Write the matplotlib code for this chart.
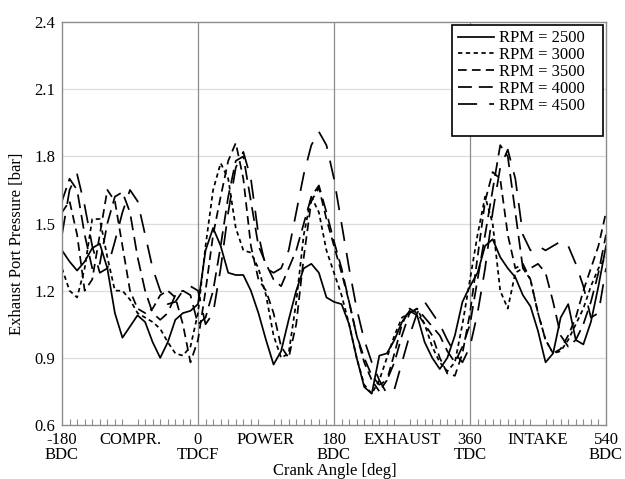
import matplotlib
matplotlib.use("Agg")
import matplotlib.pyplot as plt
import numpy as np

plt.rcParams["font.family"] = ["Liberation Serif", "DejaVu Serif"]
plt.rcParams["font.size"] = 12

# crank angle grid [deg]
ANGLE = list(range(-180, 541, 10))

P_2500 = [1.38, 1.33, 1.29, 1.33, 1.39, 1.41, 1.30, 1.10, 0.99, 1.04,
          1.09, 1.06, 0.97, 0.90, 0.97, 1.07, 1.10, 1.11, 1.14, 1.38,
          1.48, 1.40, 1.28, 1.27, 1.27, 1.20, 1.10, 0.98, 0.87, 0.93,
          1.07, 1.20, 1.30, 1.32, 1.28, 1.17, 1.15, 1.14, 1.05, 0.90,
          0.77, 0.74, 0.91, 0.92, 0.98, 1.06, 1.11, 1.09, 0.97, 0.90,
          0.85, 0.90, 1.00, 1.15, 1.22, 1.28, 1.40, 1.43, 1.35, 1.30,
          1.26, 1.18, 1.13, 1.02, 0.88, 0.92, 1.08, 1.14, 0.98, 0.96,
          1.06, 1.22, 1.40]
P_3000 = [1.30, 1.20, 1.17, 1.30, 1.52, 1.52, 1.35, 1.20, 1.20, 1.16,
          1.10, 1.08, 1.06, 1.03, 0.97, 0.92, 0.91, 0.95, 1.10, 1.40,
          1.65, 1.77, 1.70, 1.48, 1.38, 1.37, 1.30, 1.18, 1.00, 0.90,
          0.92, 1.15, 1.45, 1.62, 1.55, 1.38, 1.28, 1.18, 1.05, 0.90,
          0.78, 0.74, 0.80, 0.90, 1.00, 1.08, 1.10, 1.12, 1.05, 0.95,
          0.88, 0.84, 0.88, 1.05, 1.25, 1.45, 1.62, 1.50, 1.20, 1.12,
          1.28, 1.30, 1.25, 1.10, 0.98, 0.92, 0.93, 0.98, 1.05, 1.12,
          1.22, 1.30, 1.35]
P_3500 = [1.55, 1.60, 1.45, 1.20, 1.25, 1.45, 1.65, 1.60, 1.40, 1.20,
          1.12, 1.10, 1.12, 1.18, 1.20, 1.17, 1.05, 0.88, 0.98, 1.20,
          1.45, 1.62, 1.78, 1.86, 1.70, 1.40, 1.25, 1.20, 1.10, 0.95,
          0.90, 1.05, 1.35, 1.60, 1.66, 1.52, 1.40, 1.28, 1.15, 1.00,
          0.88, 0.80, 0.75, 0.80, 0.92, 1.05, 1.12, 1.10, 1.05, 1.00,
          0.90, 0.83, 0.82, 0.92, 1.10, 1.35, 1.60, 1.73, 1.70, 1.45,
          1.30, 1.32, 1.25, 1.10, 0.98, 0.92, 0.94, 1.00, 1.08, 1.20,
          1.30, 1.40, 1.55]
P_4000 = [1.60, 1.70, 1.65, 1.45, 1.30, 1.32, 1.50, 1.62, 1.64, 1.55,
          1.35, 1.20, 1.10, 1.07, 1.10, 1.18, 1.20, 1.18, 1.05, 1.08,
          1.20, 1.40, 1.62, 1.78, 1.80, 1.60, 1.40, 1.32, 1.25, 1.22,
          1.30, 1.38, 1.50, 1.62, 1.67, 1.55, 1.42, 1.30, 1.15, 1.00,
          0.90, 0.82, 0.78, 0.80, 0.88, 1.00, 1.10, 1.12, 1.08, 1.04,
          1.00, 0.93, 0.88, 0.95, 1.05, 1.25, 1.45, 1.65, 1.85, 1.80,
          1.55, 1.30, 1.30, 1.32, 1.28, 1.15, 1.00, 0.95, 0.98, 1.05,
          1.15, 1.28, 1.45]
P_4500 = [1.45, 1.65, 1.72, 1.58, 1.40, 1.28, 1.30, 1.42, 1.55, 1.65,
          1.60, 1.45, 1.30, 1.20, 1.14, 1.15, 1.20, 1.22, 1.20, 1.05,
          1.10, 1.30, 1.55, 1.75, 1.82, 1.70, 1.45, 1.30, 1.28, 1.30,
          1.38, 1.55, 1.72, 1.85, 1.91, 1.85, 1.70, 1.50, 1.30, 1.12,
          0.98, 0.88, 0.80, 0.74, 0.76, 0.88, 1.00, 1.10, 1.15, 1.10,
          1.05, 0.98, 0.92, 0.88, 0.95, 1.10, 1.30, 1.55, 1.75, 1.83,
          1.70, 1.45, 1.38, 1.40, 1.38, 1.40, 1.42, 1.40, 1.32, 1.22,
          1.08, 1.10, 1.30]

SERIES = [
    ("RPM = 2500", P_2500, "-"),
    ("RPM = 3000", P_3000, (0, (2.5, 2))),
    ("RPM = 3500", P_3500, (0, (5, 3))),
    ("RPM = 4000", P_4000, (0, (8, 4))),
    ("RPM = 4500", P_4500, (0, (11, 7))),
]

TICK_POS = [-180, -90, 0, 90, 180, 270, 360, 450, 540]
TICK_LABELS = ["-180\nBDC", "COMPR.", "0\nTDCF", "POWER", "180\nBDC",
               "EXHAUST", "360\nTDC", "INTAKE", "540\nBDC"]
Y_TICKS = [0.6, 0.9, 1.2, 1.5, 1.8, 2.1, 2.4]

fig = plt.figure(figsize=(6.25, 4.79), dpi=100)
ax = fig.add_axes([0.0992, 0.1127, 0.8704, 0.8413])

for y in Y_TICKS[1:-1]:
    ax.axhline(y, color="#dcdcdc", lw=0.9, zorder=0)
for x in (0, 180, 360):
    ax.axvline(x, color="#8c8c8c", lw=0.9, zorder=0)

handles = []
for label, vals, ls in SERIES:
    h, = ax.plot(ANGLE, vals, color="black", lw=1.25, linestyle=ls, label=label)
    handles.append(h)

ax.set_xlim(-180, 540)
ax.set_ylim(0.6, 2.4)
ax.set_yticks(Y_TICKS)
ax.set_yticklabels([f"{v:.1f}" for v in Y_TICKS])
ax.set_xticks(TICK_POS)
ax.set_xticklabels(TICK_LABELS, linespacing=0.95)
ax.set_xticks(np.arange(-180, 541, 10), minor=True)
ax.tick_params(axis="x", which="major", length=0, pad=5, labelsize=12)
ax.tick_params(axis="x", which="minor", direction="in", length=4, color="#8c8c8c", width=0.8)
ax.tick_params(axis="y", length=0, pad=5, labelsize=12)
for side in ("top", "right", "bottom", "left"):
    ax.spines[side].set_color("#8c8c8c")
    ax.spines[side].set_linewidth(1.0)

blank, = ax.plot([], [], color="none")
leg = ax.legend(handles + [blank], [s[0] + "   " for s in SERIES] + [" "],
                loc="upper right", bbox_to_anchor=(1.0, 1.0), borderaxespad=0.15,
                fontsize=12, handlelength=2.2, handletextpad=0.3,
                labelspacing=0.05, borderpad=0.35, fancybox=False, framealpha=1)
leg.get_frame().set_edgecolor("black")
leg.get_frame().set_linewidth(1.2)

fig.text(0.027, 0.49, "Exhaust Port Pressure [bar]", rotation=90,
         ha="center", va="center", fontsize=12)
fig.text(0.535, 0.033, "Crank Angle [deg]", ha="center", va="top", fontsize=12)

fig.savefig("out.png", dpi=100)
